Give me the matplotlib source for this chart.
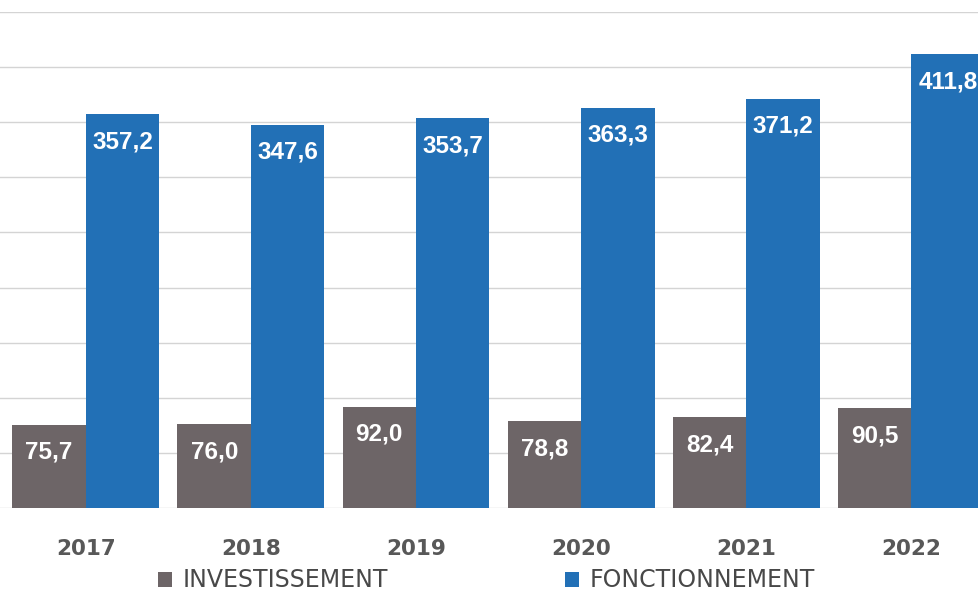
import numpy as np
import matplotlib.pyplot as plt

# dépenses par section, en millions
years = ["2017", "2018", "2019", "2020", "2021", "2022"]
investissement = [75.7, 76.0, 92.0, 78.8, 82.4, 90.5]
fonctionnement = [357.2, 347.6, 353.7, 363.3, 371.2, 411.8]

GREY = "#6d6567"
BLUE = "#2270b6"

plt.rcParams['font.family'] = ['Liberation Sans', 'DejaVu Sans']

fig = plt.figure(figsize=(9.79, 5.91), dpi=100)
ax = fig.add_axes([0, 83 / 591, 1, (508 - 12) / 591])

x = np.arange(len(years))
w = 0.445

b1 = ax.bar(x - w / 2, investissement, w, color=GREY, label="INVESTISSEMENT", zorder=3)
b2 = ax.bar(x + w / 2, fonctionnement, w, color=BLUE, label="FONCTIONNEMENT", zorder=3)

def fmt(v):
    return f"{v:.1f}".replace(".", ",")

for bars, vals in [(b1, investissement), (b2, fonctionnement)]:
    for rect, v in zip(bars, vals):
        ax.text(rect.get_x() + rect.get_width() / 2, v - 25, fmt(v),
                ha="center", va="center", color="white", fontsize=17.5,
                fontweight="bold", zorder=4)

ax.set_xlim(-0.52, 5.41)
ax.set_ylim(0, 450)
ax.set_yticks(np.arange(0, 451, 50))
ax.set_yticklabels([])
ax.yaxis.grid(True, color="#d4d4d4", linewidth=1)
ax.set_axisbelow(True)
ax.tick_params(axis="y", length=0)

ax.set_xticks(x)
ax.set_xticklabels(years, fontsize=15.5, fontweight="bold", color="#585858",
                   family="DejaVu Sans")
ax.tick_params(axis="x", length=0, pad=22)

for s in ax.spines.values():
    s.set_visible(False)

fig.legend(handles=[b1, b2], loc="center", bbox_to_anchor=(0.497, 0.018),
           ncol=2, frameon=False, prop={"family": "DejaVu Sans", "size": 17},
           handlelength=0.6, handleheight=0.6, handletextpad=0.45,
           columnspacing=7.5, labelcolor="#484848")

fig.savefig("out.png", dpi=100)
